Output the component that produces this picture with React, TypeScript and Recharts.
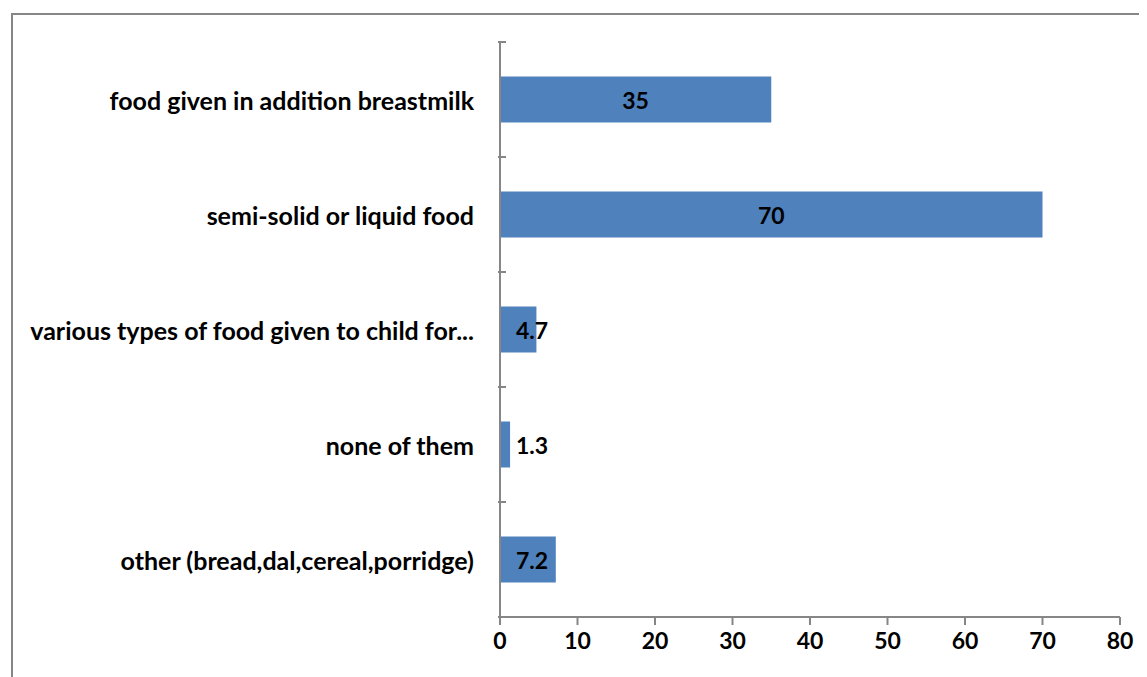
import React from "react";
import { BarChart, Bar, XAxis, YAxis, LabelList } from "recharts";

// Tipos de alimento y porcentaje de madres que los dieron
const categorias = [
  "food given in addition breastmilk",
  "semi-solid or liquid food",
  "various types of food given to child for...",
  "none of them",
  "other (bread,dal,cereal,porridge)",
];
const porcentajes = [35, 70, 4.7, 1.3, 7.2];
const ticksX = [0, 10, 20, 30, 40, 50, 60, 70, 80];

const data = categorias.map((c, i) => ({ categoria: c, valor: porcentajes[i] }));

const AZUL = "#4f81bd";
const GRIS = "#868686";
const FUENTE = "Lato, 'Open Sans', sans-serif";

const ANCHO = 1140;
const ALTO = 660;
const MARGEN = { top: 27, right: 33, bottom: 18, left: 0 };
const EJE_Y_ANCHO = 487;
const EJE_X_ALTO = 40;
const PLOT_H = ALTO - MARGEN.top - MARGEN.bottom - EJE_X_ALTO;
const BANDA = PLOT_H / categorias.length;

/** Etiqueta de categoría + marcas en los bordes de cada banda */
function TickCategoria(props: any) {
  const { x, y, payload, index } = props;
  const ejeX = x + 8;
  return (
    <g>
      <line x1={ejeX - 8} x2={ejeX} y1={y - BANDA / 2} y2={y - BANDA / 2} stroke={GRIS} strokeWidth={2} />
      {index === categorias.length - 1 && (
        <line x1={ejeX - 8} x2={ejeX} y1={y + BANDA / 2} y2={y + BANDA / 2} stroke={GRIS} strokeWidth={2} />
      )}
      <text
        x={ejeX - 32}
        y={y}
        textAnchor="end"
        dominantBaseline="central"
        fontFamily={FUENTE}
        fontWeight={700}
        fontSize={25}
        fill="#000"
      >
        {payload.value}
      </text>
    </g>
  );
}

/** Valor dentro de la barra; en barras cortas se corre a la derecha */
function EtiquetaValor(props: any) {
  const { x, y, width, height, value } = props;
  const corta = width < 60;
  return (
    <text
      x={corta ? x + 16 : x + width / 2}
      y={y + height / 2}
      textAnchor={corta ? "start" : "middle"}
      dominantBaseline="central"
      fontFamily={FUENTE}
      fontWeight={700}
      fontSize={23}
      fill="#000"
    >
      {value}
    </text>
  );
}

export default function App() {
  return (
    <div
      style={{
        marginLeft: 3,
        marginTop: 5,
        width: 1150,
        height: 680,
        border: `2px solid ${GRIS}`,
        boxSizing: "border-box",
        background: "#fff",
      }}
    >
      <BarChart
        width={ANCHO}
        height={ALTO}
        data={data}
        layout="vertical"
        margin={MARGEN}
        barCategoryGap="30%"
      >
        <XAxis
          type="number"
          domain={[0, 80]}
          ticks={ticksX}
          interval={0}
          height={EJE_X_ALTO}
          axisLine={{ stroke: GRIS, strokeWidth: 2 }}
          tickLine={{ stroke: GRIS, strokeWidth: 2 }}
          tickSize={8}
          tickMargin={8}
          tick={{ fontFamily: FUENTE, fontWeight: 700, fontSize: 23, fill: "#000" }}
        />
        <YAxis
          type="category"
          dataKey="categoria"
          width={EJE_Y_ANCHO}
          axisLine={{ stroke: GRIS, strokeWidth: 2 }}
          tickLine={false}
          tickSize={0}
          tick={<TickCategoria />}
          interval={0}
        />
        <Bar dataKey="valor" fill={AZUL} isAnimationActive={false}>
          <LabelList dataKey="valor" content={<EtiquetaValor />} />
        </Bar>
      </BarChart>
    </div>
  );
}
